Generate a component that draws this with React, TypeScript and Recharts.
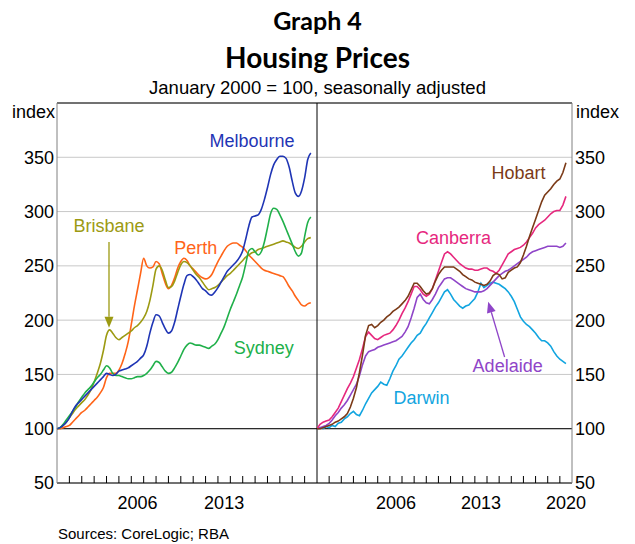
import React from "react";
import {
  LineChart,
  Line,
  XAxis,
  YAxis,
  CartesianGrid,
  ReferenceLine,
  ReferenceDot,
} from "recharts";

// quarterly grid, Jan 2000 to mid 2020
const QUARTERS = Array.from({ length: 83 }, (_, i) => 2000 + i / 4);

const MELBOURNE = [
  100, 101, 103, 106, 110, 116, 121, 124, 127, 130, 133, 136, 139, 142, 145, 148,
  151, 150, 149, 150, 153, 154, 155, 156, 158, 160, 162, 165, 168, 176, 188, 198,
  205, 204, 198, 192, 188, 190, 198, 210, 222, 233, 241, 242, 240, 237, 233, 229,
  227, 224, 223, 226, 230, 235, 240, 245, 248, 251, 254, 258, 264, 275, 287, 295,
  296, 297, 302, 311, 322, 334, 343, 348, 351, 351, 349, 341, 328, 317, 314, 319,
  331, 348, 354,
];
const SYDNEY = [
  100, 101, 104, 108, 112, 116, 120, 125, 129, 133, 136, 139, 143, 147, 150, 154,
  158, 156, 151, 149, 149, 148, 147, 146, 146, 147, 148, 148, 149, 151, 154, 158,
  162, 161, 157, 153, 151, 152, 156, 161, 167, 173, 177, 179, 178, 177, 177, 176,
  175, 174, 176, 178, 182, 188, 194, 202, 210, 217, 224, 232, 240, 252, 264, 266,
  263, 260, 263, 272, 285, 298, 303, 302, 297, 291, 284, 277, 270, 263, 259, 262,
  277, 290, 295,
];
const BRISBANE = [
  100, 101, 103, 106, 110, 114, 118, 121, 124, 127, 131, 136, 143, 151, 160, 172,
  186, 191, 188, 184, 182, 184, 186, 188, 190, 193, 195, 198, 202, 208, 218, 232,
  247, 250, 246, 237, 230, 231, 236, 244, 251, 254, 253, 250, 246, 242, 239, 235,
  231, 228, 229, 230, 232, 235, 238, 241, 243, 246, 249, 252, 255, 258, 260, 262,
  263, 265, 266, 267, 268, 269, 270, 271, 272, 273, 272, 271, 269, 267, 266, 268,
  272, 275, 276,
];
const PERTH = [
  100, 100, 101, 102, 103, 106, 109, 112, 115, 117, 120, 123, 126, 129, 133, 138,
  147, 151, 151, 151, 154, 160, 169, 180, 196, 213, 228, 243, 257, 250, 248, 249,
  254, 252, 243, 234, 229, 232, 239, 248, 254, 257, 255, 250, 247, 244, 241, 239,
  238, 239, 242, 248, 254, 259, 264, 268, 270, 271, 271, 269, 267, 264, 260, 257,
  254, 251, 248, 246, 245, 244, 243, 242, 241, 240, 236, 231, 227, 222, 218, 214,
  213, 215, 216,
];
const HOBART = [
  100, 100, 101, 102, 103, 104, 106, 107, 109, 111, 114, 120, 128, 138, 152, 168,
  186, 195, 196, 193, 195, 198, 200, 203, 205, 208, 210, 212, 215, 218, 222, 228,
  234, 234, 231, 227, 224, 225, 229, 236, 242, 246, 249, 249, 249, 249, 247, 245,
  242, 240, 238, 237, 235, 234, 233, 232, 233, 236, 241, 243, 242, 238, 239, 244,
  246, 248, 249, 253, 260, 268, 277, 285, 293, 301, 309, 315, 318, 321, 325, 328,
  330, 336, 345,
];
const CANBERRA = [
  100, 104, 106, 107, 108, 111, 115, 119, 125, 131, 137, 142, 148, 156, 164, 174,
  185, 189, 186, 183, 182, 184, 186, 187, 188, 191, 195, 200, 206, 211, 217, 224,
  231, 231, 228, 224, 222, 224, 229, 237, 245, 253, 261, 263, 261, 258, 255, 252,
  250, 248, 247, 247, 246, 246, 247, 248, 248, 246, 245, 243, 246, 251, 256, 261,
  263, 265, 266, 267, 269, 272, 276, 280, 285, 288, 290, 292, 295, 298, 300, 301,
  301, 306, 314,
];
const ADELAIDE = [
  100, 101, 102, 103, 105, 108, 112, 115, 119, 122, 126, 131, 136, 141, 149, 159,
  167, 171, 172, 173, 175, 176, 177, 178, 179, 180, 181, 183, 185, 189, 194, 202,
  211, 221, 224, 219, 216, 215, 219, 224, 230, 234, 238, 239, 239, 237, 235, 233,
  231, 229, 228, 227, 226, 226, 226, 227, 229, 232, 235, 238, 241, 243, 245, 246,
  248, 250, 252, 254, 256, 258, 261, 263, 264, 265, 266, 267, 268, 268, 268, 268,
  267, 268, 271,
];
const DARWIN = [
  100, 101, 100, 102, 101, 103, 102, 105, 106, 109, 111, 114, 116, 113, 112, 117,
  123, 128, 133, 136, 139, 143, 141, 140, 146, 153, 158, 164, 167, 171, 175, 179,
  182, 186, 188, 193, 197, 202, 207, 212, 216, 221, 226, 228, 224, 219, 216, 213,
  211, 213, 214, 217, 220, 226, 234, 230, 232, 234, 235, 234, 233, 231, 229, 226,
  222, 217, 210, 203, 199, 196, 194, 191, 188, 184, 181, 181, 179, 176, 171, 167,
  164, 162, 160,
];

const Y_TICKS = [50, 100, 150, 200, 250, 300, 350];
const YEAR_MARKS = [
  2001, 2002, 2003, 2004, 2005, 2006, 2007, 2008, 2009, 2010,
  2011, 2012, 2013, 2014, 2015, 2016, 2017, 2018, 2019, 2020,
];
const LEFT_LABEL_YEARS = [2006, 2013];
const RIGHT_LABEL_YEARS = [2006, 2013, 2020];

const FONT = "'Liberation Sans', Arial, sans-serif";
const TITLE_FONT = "Lato, 'Open Sans', sans-serif";

const leftRows = QUARTERS.map((t, i) => ({
  t,
  melbourne: MELBOURNE[i],
  sydney: SYDNEY[i],
  brisbane: BRISBANE[i],
  perth: PERTH[i],
}));
const rightRows = QUARTERS.map((t, i) => ({
  t,
  hobart: HOBART[i],
  canberra: CANBERRA[i],
  adelaide: ADELAIDE[i],
  darwin: DARWIN[i],
}));

// year ticks sit on integers; labels sit mid-year (value + 0.5)
function YearTick(props: any) {
  const { x, y, payload } = props;
  const v = payload.value as number;
  if (Number.isInteger(v)) {
    return <line x1={x} x2={x} y1={y} y2={y - 7} stroke="#000" strokeWidth={1} />;
  }
  return (
    <text x={x} y={y + 26} textAnchor="middle" fontSize={18} fill="#000" fontFamily={FONT}>
      {Math.floor(v)}
    </text>
  );
}

function seriesLabel(text: string, color: string) {
  return (p: any) => (
    <text
      x={p.cx}
      y={p.cy}
      textAnchor="middle"
      dominantBaseline="central"
      fontSize={18}
      fill={color}
      fontFamily={FONT}
    >
      {text}
    </text>
  );
}

function arrow(color: string) {
  return (p: any) => {
    const { x1, y1, x2, y2 } = p;
    const dx = x2 - x1;
    const dy = y2 - y1;
    const len = Math.sqrt(dx * dx + dy * dy) || 1;
    const ux = dx / len;
    const uy = dy / len;
    const hl = 11;
    const hw = 4.5;
    const bx = x2 - ux * hl;
    const by = y2 - uy * hl;
    return (
      <g>
        <line x1={x1} y1={y1} x2={bx} y2={by} stroke={color} strokeWidth={1.3} />
        <polygon
          points={`${x2},${y2} ${bx - uy * hw},${by + ux * hw} ${bx + uy * hw},${by - ux * hw}`}
          fill={color}
        />
      </g>
    );
  };
}

const W = 635;
const H = 544;
const TOP = 103;
const BOTTOM = 61;

export default function App() {
  const tickStyle = { fontSize: 18, fill: "#000", fontFamily: FONT };
  return (
    <div
      style={{
        position: "absolute",
        left: 0,
        top: 0,
        width: W,
        height: H,
        background: "#fff",
        fontFamily: FONT,
      }}
    >
      <div
        style={{
          position: "absolute",
          top: 5,
          left: 0,
          width: W,
          textAlign: "center",
          fontFamily: TITLE_FONT,
          fontWeight: 700,
          fontSize: 25,
          lineHeight: "30px",
        }}
      >
        Graph 4
      </div>
      <div
        style={{
          position: "absolute",
          top: 40,
          left: 0,
          width: W,
          textAlign: "center",
          fontFamily: TITLE_FONT,
          fontWeight: 700,
          fontSize: 28,
          lineHeight: "34px",
        }}
      >
        Housing Prices
      </div>
      <div
        style={{
          position: "absolute",
          top: 77,
          left: 0,
          width: W,
          textAlign: "center",
          fontSize: 18.5,
          lineHeight: "22px",
        }}
      >
        January 2000 = 100, seasonally adjusted
      </div>
      <div style={{ position: "absolute", top: 101, left: 0, width: 55, textAlign: "right", fontSize: 18, lineHeight: "22px" }}>
        index
      </div>
      <div style={{ position: "absolute", top: 101, left: 576, fontSize: 18, lineHeight: "22px" }}>
        index
      </div>
      <div style={{ position: "absolute", top: 525, left: 58, fontSize: 15, lineHeight: "18px" }}>
        Sources: CoreLogic; RBA
      </div>

      <div style={{ position: "absolute", left: 0, top: 0 }}>
        <LineChart width={317} height={H} data={leftRows} margin={{ top: TOP, right: 0, bottom: BOTTOM - 30, left: 0 }}>
          <CartesianGrid horizontal vertical={false} stroke="#c8c8c8" />
          <XAxis
            type="number"
            dataKey="t"
            domain={[2000, 2021]}
            ticks={[...YEAR_MARKS, ...LEFT_LABEL_YEARS.map((y) => y + 0.5)]}
            interval={0}
            height={30}
            tickSize={0}
            tickMargin={0}
            tickLine={false}
            axisLine={{ stroke: "#000" }}
            tick={(p: any) => <YearTick {...p} />}
          />
          <YAxis
            type="number"
            domain={[50, 400]}
            ticks={Y_TICKS}
            interval={0}
            width={57}
            tickSize={0}
            tickMargin={3}
            tickLine={false}
            axisLine={{ stroke: "#808080" }}
            tick={tickStyle}
          />
          <ReferenceLine y={100} stroke="#000" strokeWidth={1} />
          <ReferenceLine y={400} stroke="#000" strokeWidth={1} />
          <ReferenceLine x={2021} stroke="#000" strokeWidth={1} />
          <Line type="monotone" dataKey="perth" stroke="#ff6418" strokeWidth={1.6} dot={false} isAnimationActive={false} />
          <Line type="monotone" dataKey="brisbane" stroke="#9c9a12" strokeWidth={1.6} dot={false} isAnimationActive={false} />
          <Line type="monotone" dataKey="sydney" stroke="#20b04a" strokeWidth={1.6} dot={false} isAnimationActive={false} />
          <Line type="monotone" dataKey="melbourne" stroke="#1f35b5" strokeWidth={1.6} dot={false} isAnimationActive={false} />
          <ReferenceLine
            segment={[{ x: 2004.2, y: 272 }, { x: 2004.2, y: 193 }]}
            shape={arrow("#9c9a12")}
          />
          <ReferenceDot x={2015.75} y={365} r={0} shape={seriesLabel("Melbourne", "#1f35b5")} />
          <ReferenceDot x={2004.2} y={286.5} r={0} shape={seriesLabel("Brisbane", "#9c9a12")} />
          <ReferenceDot x={2011.2} y={266.5} r={0} shape={seriesLabel("Perth", "#ff6418")} />
          <ReferenceDot x={2016.7} y={174.5} r={0} shape={seriesLabel("Sydney", "#20b04a")} />
        </LineChart>
      </div>

      <div style={{ position: "absolute", left: 317, top: 0 }}>
        <LineChart width={318} height={H} data={rightRows} margin={{ top: TOP, right: 0, bottom: BOTTOM - 30, left: 0 }}>
          <CartesianGrid horizontal vertical={false} stroke="#c8c8c8" />
          <XAxis
            type="number"
            dataKey="t"
            domain={[2000, 2021]}
            ticks={[...YEAR_MARKS, ...RIGHT_LABEL_YEARS.map((y) => y + 0.5)]}
            interval={0}
            height={30}
            tickSize={0}
            tickMargin={0}
            tickLine={false}
            axisLine={{ stroke: "#000" }}
            tick={(p: any) => <YearTick {...p} />}
          />
          <YAxis
            type="number"
            orientation="right"
            domain={[50, 400]}
            ticks={Y_TICKS}
            interval={0}
            width={63}
            tickSize={0}
            tickMargin={3}
            tickLine={false}
            axisLine={{ stroke: "#808080" }}
            tick={tickStyle}
          />
          <ReferenceLine y={100} stroke="#000" strokeWidth={1} />
          <ReferenceLine y={400} stroke="#000" strokeWidth={1} />
          <ReferenceLine x={2000} stroke="#000" strokeWidth={1} />
          <Line type="linear" dataKey="darwin" stroke="#12a5e0" strokeWidth={1.6} dot={false} isAnimationActive={false} />
          <Line type="linear" dataKey="adelaide" stroke="#8f45c8" strokeWidth={1.6} dot={false} isAnimationActive={false} />
          <Line type="linear" dataKey="canberra" stroke="#e6287e" strokeWidth={1.6} dot={false} isAnimationActive={false} />
          <Line type="linear" dataKey="hobart" stroke="#7b3a17" strokeWidth={1.6} dot={false} isAnimationActive={false} />
          <ReferenceLine
            segment={[{ x: 2015.45, y: 166 }, { x: 2014.1, y: 217 }]}
            shape={arrow("#8f45c8")}
          />
          <ReferenceDot x={2016.6} y={335.5} r={0} shape={seriesLabel("Hobart", "#7b3a17")} />
          <ReferenceDot x={2011.25} y={275.5} r={0} shape={seriesLabel("Canberra", "#e6287e")} />
          <ReferenceDot x={2015.7} y={158} r={0} shape={seriesLabel("Adelaide", "#8f45c8")} />
          <ReferenceDot x={2008.6} y={128.5} r={0} shape={seriesLabel("Darwin", "#12a5e0")} />
        </LineChart>
      </div>
    </div>
  );
}
